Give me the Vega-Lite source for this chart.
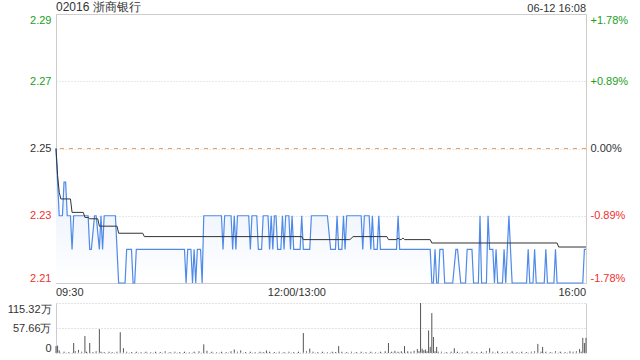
{
  "$schema": "https://vega.github.io/schema/vega-lite/v6.json",
  "padding": {"left": 5, "right": 5, "top": 0, "bottom": 4},
  "background": "white",
  "spacing": 3,
  "config": {
    "font": "Liberation Sans",
    "axis": {"labelFont": "Liberation Sans", "labelFontSize": 11, "title": null, "ticks": false, "domain": false, "labelColor": "#333333"},
    "text": {"font": "Liberation Sans"}
  },
  "datasets": {
    "price": [
      {"t":0,"p":2.25},{"t":2,"p":2.23},{"t":4,"p":2.23},{"t":5,"p":2.24},{"t":6,"p":2.24},{"t":7,"p":2.23},{"t":9,"p":2.23},{"t":10,"p":2.22},{"t":11,"p":2.23},{"t":20,"p":2.23},{"t":21,"p":2.22},{"t":22,"p":2.22},{"t":24,"p":2.23},{"t":25,"p":2.23},{"t":27,"p":2.22},{"t":28,"p":2.23},{"t":29,"p":2.22},{"t":30,"p":2.23},{"t":37,"p":2.23},{"t":38,"p":2.22},{"t":39,"p":2.21},{"t":43,"p":2.21},{"t":44,"p":2.22},{"t":47,"p":2.22},{"t":48,"p":2.21},{"t":49,"p":2.21},{"t":50,"p":2.22},{"t":80,"p":2.22},{"t":81,"p":2.21},{"t":82,"p":2.22},{"t":84,"p":2.22},{"t":85,"p":2.21},{"t":86,"p":2.22},{"t":87,"p":2.21},{"t":88,"p":2.22},{"t":90,"p":2.22},{"t":91,"p":2.21},{"t":92,"p":2.23},{"t":103,"p":2.23},{"t":104,"p":2.22},{"t":105,"p":2.23},{"t":109,"p":2.23},{"t":110,"p":2.22},{"t":111,"p":2.23},{"t":112,"p":2.22},{"t":113,"p":2.23},{"t":120,"p":2.23},{"t":121,"p":2.22},{"t":122,"p":2.23},{"t":125,"p":2.23},{"t":126,"p":2.22},{"t":128,"p":2.22},{"t":129,"p":2.23},{"t":132,"p":2.23},{"t":133,"p":2.22},{"t":134,"p":2.23},{"t":135,"p":2.22},{"t":136,"p":2.23},{"t":137,"p":2.23},{"t":138,"p":2.22},{"t":140,"p":2.22},{"t":141,"p":2.23},{"t":142,"p":2.22},{"t":143,"p":2.23},{"t":145,"p":2.23},{"t":146,"p":2.22},{"t":147,"p":2.23},{"t":148,"p":2.22},{"t":152,"p":2.22},{"t":153,"p":2.23},{"t":154,"p":2.22},{"t":158,"p":2.22},{"t":159,"p":2.23},{"t":169,"p":2.23},{"t":171,"p":2.22},{"t":174,"p":2.22},{"t":175,"p":2.23},{"t":176,"p":2.22},{"t":178,"p":2.22},{"t":179,"p":2.23},{"t":180,"p":2.22},{"t":181,"p":2.23},{"t":190,"p":2.23},{"t":191,"p":2.22},{"t":192,"p":2.23},{"t":195,"p":2.23},{"t":196,"p":2.22},{"t":197,"p":2.23},{"t":198,"p":2.22},{"t":200,"p":2.22},{"t":201,"p":2.23},{"t":202,"p":2.22},{"t":212,"p":2.22},{"t":213,"p":2.23},{"t":214,"p":2.22},{"t":233,"p":2.22},{"t":234,"p":2.21},{"t":235,"p":2.21},{"t":236,"p":2.22},{"t":237,"p":2.21},{"t":238,"p":2.21},{"t":239,"p":2.22},{"t":241,"p":2.22},{"t":242,"p":2.21},{"t":247,"p":2.21},{"t":249,"p":2.22},{"t":250,"p":2.22},{"t":252,"p":2.21},{"t":255,"p":2.21},{"t":256,"p":2.22},{"t":259,"p":2.22},{"t":260,"p":2.21},{"t":263,"p":2.21},{"t":264,"p":2.23},{"t":265,"p":2.21},{"t":268,"p":2.21},{"t":269,"p":2.23},{"t":270,"p":2.22},{"t":272,"p":2.22},{"t":273,"p":2.21},{"t":274,"p":2.22},{"t":275,"p":2.21},{"t":278,"p":2.21},{"t":279,"p":2.22},{"t":280,"p":2.21},{"t":282,"p":2.23},{"t":284,"p":2.21},{"t":293,"p":2.21},{"t":294,"p":2.22},{"t":295,"p":2.21},{"t":297,"p":2.21},{"t":298,"p":2.22},{"t":299,"p":2.21},{"t":304,"p":2.21},{"t":305,"p":2.22},{"t":306,"p":2.21},{"t":310,"p":2.21},{"t":311,"p":2.22},{"t":312,"p":2.21},{"t":328,"p":2.21},{"t":329,"p":2.22},{"t":330,"p":2.22}
    ],
    "avg": [
      {"t":0,"a":2.25},{"t":1,"a":2.242},{"t":2,"a":2.237},{"t":3,"a":2.235},{"t":9,"a":2.235},{"t":10,"a":2.231},{"t":17,"a":2.231},{"t":18,"a":2.2295},{"t":20,"a":2.2295},{"t":21,"a":2.2291},{"t":26,"a":2.2291},{"t":27,"a":2.2269},{"t":38,"a":2.2269},{"t":39,"a":2.2248},{"t":54,"a":2.2248},{"t":55,"a":2.2238},{"t":153,"a":2.2238},{"t":154,"a":2.2229},{"t":183,"a":2.2229},{"t":185,"a":2.2238},{"t":206,"a":2.2238},{"t":207,"a":2.2229},{"t":212,"a":2.2229},{"t":213,"a":2.2234},{"t":214,"a":2.2229},{"t":215,"a":2.2229},{"t":216,"a":2.2234},{"t":217,"a":2.2229},{"t":233,"a":2.2229},{"t":234,"a":2.2219},{"t":312,"a":2.2219},{"t":313,"a":2.2207},{"t":330,"a":2.2207}
    ],
    "vol": [
      {"t":0,"v":160000},{"t":1,"v":170000},{"t":2,"v":60000},{"t":5,"v":30000},{"t":8,"v":20000},{"t":11,"v":230000},{"t":12,"v":40000},{"t":14,"v":70000},{"t":16,"v":30000},{"t":18,"v":390000},{"t":19,"v":30000},{"t":21,"v":230000},{"t":23,"v":20000},{"t":25,"v":40000},{"t":27,"v":550000},{"t":28,"v":30000},{"t":30,"v":20000},{"t":33,"v":30000},{"t":35,"v":20000},{"t":38,"v":30000},{"t":40,"v":480000},{"t":42,"v":110000},{"t":44,"v":30000},{"t":47,"v":20000},{"t":50,"v":30000},{"t":53,"v":20000},{"t":56,"v":30000},{"t":59,"v":20000},{"t":62,"v":30000},{"t":65,"v":20000},{"t":68,"v":40000},{"t":71,"v":20000},{"t":74,"v":30000},{"t":77,"v":20000},{"t":80,"v":30000},{"t":83,"v":20000},{"t":86,"v":30000},{"t":89,"v":40000},{"t":92,"v":200000},{"t":94,"v":50000},{"t":97,"v":30000},{"t":100,"v":20000},{"t":103,"v":30000},{"t":106,"v":20000},{"t":109,"v":40000},{"t":111,"v":80000},{"t":113,"v":30000},{"t":115,"v":60000},{"t":118,"v":20000},{"t":121,"v":30000},{"t":124,"v":20000},{"t":127,"v":30000},{"t":129,"v":20000},{"t":131,"v":60000},{"t":133,"v":30000},{"t":136,"v":20000},{"t":139,"v":30000},{"t":142,"v":20000},{"t":145,"v":30000},{"t":148,"v":20000},{"t":151,"v":30000},{"t":154,"v":460000},{"t":156,"v":40000},{"t":158,"v":100000},{"t":160,"v":30000},{"t":163,"v":20000},{"t":166,"v":30000},{"t":169,"v":20000},{"t":172,"v":30000},{"t":174,"v":20000},{"t":176,"v":160000},{"t":178,"v":30000},{"t":181,"v":20000},{"t":184,"v":30000},{"t":187,"v":20000},{"t":190,"v":30000},{"t":193,"v":20000},{"t":196,"v":30000},{"t":199,"v":20000},{"t":202,"v":30000},{"t":205,"v":40000},{"t":207,"v":230000},{"t":209,"v":30000},{"t":211,"v":50000},{"t":213,"v":30000},{"t":215,"v":40000},{"t":217,"v":160000},{"t":219,"v":40000},{"t":221,"v":30000},{"t":223,"v":50000},{"t":225,"v":90000},{"t":226,"v":40000},{"t":227,"v":1153200},{"t":228,"v":100000},{"t":229,"v":60000},{"t":230,"v":80000},{"t":231,"v":40000},{"t":232,"v":520000},{"t":233,"v":140000},{"t":234,"v":920000},{"t":235,"v":370000},{"t":236,"v":40000},{"t":237,"v":140000},{"t":238,"v":30000},{"t":240,"v":30000},{"t":243,"v":20000},{"t":246,"v":30000},{"t":248,"v":110000},{"t":250,"v":30000},{"t":253,"v":20000},{"t":256,"v":40000},{"t":259,"v":30000},{"t":262,"v":20000},{"t":265,"v":30000},{"t":268,"v":40000},{"t":270,"v":110000},{"t":272,"v":30000},{"t":275,"v":40000},{"t":278,"v":20000},{"t":281,"v":30000},{"t":284,"v":40000},{"t":287,"v":20000},{"t":290,"v":30000},{"t":293,"v":20000},{"t":296,"v":30000},{"t":298,"v":40000},{"t":300,"v":210000},{"t":302,"v":30000},{"t":303,"v":140000},{"t":305,"v":30000},{"t":308,"v":20000},{"t":311,"v":40000},{"t":314,"v":30000},{"t":317,"v":20000},{"t":320,"v":40000},{"t":322,"v":30000},{"t":324,"v":40000},{"t":326,"v":90000},{"t":327,"v":30000},{"t":328,"v":350000},{"t":329,"v":230000},{"t":330,"v":350000}
    ]
  },
  "vconcat": [
    {
      "width": 530,
      "height": 269,
      "view": {"stroke": "#cccccc"},
      "resolve": {"axis": {"y": "independent"}},
      "layer": [
        {
          "data": {"name": "price"},
          "mark": {"type": "area", "fill": {"gradient": "linear", "x1": 0, "y1": 0, "x2": 0, "y2": 1, "stops": [{"offset": 0, "color": "#e3ecfb"}, {"offset": 1, "color": "#ffffff"}]}},
          "encoding": {
            "x": {"field": "t", "type": "quantitative", "scale": {"domain": [0, 330], "nice": false, "zero": false},
              "axis": {"orient": "bottom", "values": [0,30,60,90,120,150,180,210,240,270,300,330], "grid": true, "gridColor": "#d0d0d0", "gridDash": [1,2], "labels": false}},
            "y": {"field": "p", "type": "quantitative", "scale": {"domain": [2.21, 2.29], "nice": false, "zero": false}, "axis": null},
            "y2": {"datum": 2.21}
          }
        },
        {
          "data": {"values": [{"prev": 2.25}]},
          "mark": {"type": "rule", "color": "#f0a060", "strokeDash": [4, 5], "strokeWidth": 1},
          "encoding": {"y": {"field": "prev", "type": "quantitative", "axis": null}}
        },
        {
          "data": {"name": "price"},
          "mark": {"type": "line", "color": "#4f8ae8", "strokeWidth": 1.2},
          "encoding": {
            "x": {"field": "t", "type": "quantitative", "axis": null},
            "y": {"field": "p", "type": "quantitative",
              "axis": {"orient": "left", "values": [2.21, 2.23, 2.25, 2.27, 2.29], "format": ".2f", "grid": true, "gridColor": "#d0d0d0", "gridDash": [1,2], "labelFlush": true, "labelFlushOffset": 0, "labelPadding": 5, "minExtent": 50, "maxExtent": 50,
                "labelColor": {"condition": [{"test": "datum.value > 2.2501", "value": "#1ba01b"}, {"test": "datum.value < 2.2499", "value": "#f03030"}], "value": "#333333"}}}
          }
        },
        {
          "data": {"name": "avg"},
          "mark": {"type": "line", "color": "#333333", "strokeWidth": 1},
          "encoding": {
            "x": {"field": "t", "type": "quantitative", "axis": null},
            "y": {"field": "a", "type": "quantitative",
              "axis": {"orient": "right", "values": [2.21, 2.23, 2.25, 2.27, 2.29], "grid": false, "labelFlush": true, "labelFlushOffset": 0, "labelPadding": 4, "minExtent": 50, "maxExtent": 50,
                "labelExpr": "(datum.value > 2.2501 ? '+' : datum.value < 2.2499 ? '-' : '') + format(abs(datum.value - 2.25) / 2.25 * 100, '.2f') + '%'",
                "labelColor": {"condition": [{"test": "datum.value > 2.2501", "value": "#1ba01b"}, {"test": "datum.value < 2.2499", "value": "#f03030"}], "value": "#333333"}}}
          }
        },
        {
          "data": {"values": [{"label": "02016 浙商银行", "t": 0, "p": 2.29}]},
          "mark": {"type": "text", "align": "left", "baseline": "bottom", "dy": 0, "fontSize": 12, "color": "#333333"},
          "encoding": {
            "x": {"field": "t", "type": "quantitative", "axis": null},
            "y": {"field": "p", "type": "quantitative", "axis": null},
            "text": {"field": "label"}
          }
        },
        {
          "data": {"values": [{"label": "06-12 16:08", "t": 330, "p": 2.29}]},
          "mark": {"type": "text", "align": "right", "baseline": "bottom", "dy": 0, "fontSize": 11, "color": "#333333"},
          "encoding": {
            "x": {"field": "t", "type": "quantitative", "axis": null},
            "y": {"field": "p", "type": "quantitative", "axis": null},
            "text": {"field": "label"}
          }
        },
        {
          "data": {"values": [{"label": "09:30", "t": 0, "p": 2.21}]},
          "mark": {"type": "text", "align": "left", "baseline": "top", "dy": 4, "fontSize": 11, "color": "#333333"},
          "encoding": {
            "x": {"field": "t", "type": "quantitative", "axis": null},
            "y": {"field": "p", "type": "quantitative", "axis": null},
            "text": {"field": "label"}
          }
        },
        {
          "data": {"values": [{"label": "12:00/13:00", "t": 150, "p": 2.21}]},
          "mark": {"type": "text", "align": "center", "baseline": "top", "dy": 4, "fontSize": 11, "color": "#333333"},
          "encoding": {
            "x": {"field": "t", "type": "quantitative", "axis": null},
            "y": {"field": "p", "type": "quantitative", "axis": null},
            "text": {"field": "label"}
          }
        },
        {
          "data": {"values": [{"label": "16:00", "t": 330, "p": 2.21}]},
          "mark": {"type": "text", "align": "right", "baseline": "top", "dy": 4, "fontSize": 11, "color": "#333333"},
          "encoding": {
            "x": {"field": "t", "type": "quantitative", "axis": null},
            "y": {"field": "p", "type": "quantitative", "axis": null},
            "text": {"field": "label"}
          }
        }
      ]
    },
    {
      "width": 530,
      "height": 50,
      "view": {"stroke": null},
      "resolve": {"axis": {"y": "independent"}},
      "layer": [
        {
          "data": {"name": "vol"},
          "mark": {"type": "rule", "color": "#555555", "strokeWidth": 1},
          "encoding": {
            "x": {"field": "t", "type": "quantitative", "scale": {"domain": [0, 330], "nice": false, "zero": false}, "axis": null},
            "y": {"field": "v", "type": "quantitative", "scale": {"domain": [0, 1153200], "nice": false},
              "axis": {"orient": "left", "values": [0, 576600, 1153200], "grid": true, "gridColor": "#c8c8c8", "gridDash": [1,2], "domain": true, "domainColor": "#cccccc", "labelFlush": true, "labelFlushOffset": 0, "labelPadding": 5, "minExtent": 50, "maxExtent": 50,
                "labelExpr": "datum.value == 0 ? '0' : format(datum.value / 10000, '.2f') + '万'"}},
            "y2": {"datum": 0}
          }
        },
        {
          "data": {"values": [{"z": 0}]},
          "mark": {"type": "rule", "color": "#c8c8c8", "strokeDash": [1, 2]},
          "encoding": {
            "y": {"field": "z", "type": "quantitative", "axis": {"orient": "right", "labels": false, "grid": false, "domain": true, "domainColor": "#cccccc", "minExtent": 50, "maxExtent": 50}}
          }
        }
      ]
    }
  ]
}
